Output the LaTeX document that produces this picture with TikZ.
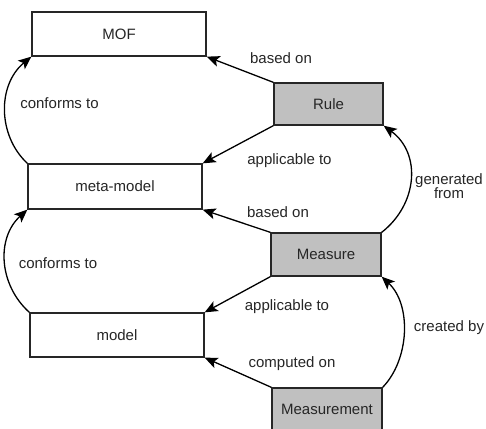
\documentclass[tikz,border=0pt]{standalone}
\usepackage{fontspec}
\setmainfont{Liberation Sans}
\usetikzlibrary{arrows.meta}
\definecolor{boxgray}{RGB}{192,192,192}
\begin{document}
\begin{tikzpicture}[x=1pt,y=-1pt,
  box/.style={draw=black!85,line width=1.3pt,rectangle,inner sep=0pt,text=black!85,font=\fontsize{15}{17}\selectfont},
  wbox/.style={box,fill=white},
  gbox/.style={box,fill=boxgray},
  conn/.style={line width=1.3pt,-{Stealth[length=13pt,width=11pt,inset=3pt]}},
  lbl/.style={inner sep=0pt,text=black!85,font=\fontsize{15}{17}\selectfont,align=center}]
\useasboundingbox (0,0) rectangle (486,428);
\clip (0,0) rectangle (486,428);
\fill[white] (0,0) rectangle (486,428);
% boxes
\node[wbox,minimum width=174pt,minimum height=44pt] (mof) at (119,34) {MOF};
\node[gbox,minimum width=109pt,minimum height=42pt] (rule) at (328.5,104) {Rule};
\node[wbox,minimum width=174pt,minimum height=45pt] (meta) at (115,186.5) {meta-model};
\node[gbox,minimum width=110pt,minimum height=43pt] (measure) at (326,254.5) {Measure};
\node[wbox,minimum width=174pt,minimum height=44pt] (model) at (117,335) {model};
\node[gbox,minimum width=110pt,minimum height=43pt] (measurement) at (327,409.5) {Measurement};
% straight connectors
\draw[conn] (rule.north west) -- (mof.south east);
\draw[conn] (rule.south west) -- (meta.north east);
\draw[conn] (measure.north west) -- (meta.south east);
\draw[conn] (measure.south west) -- (model.north east);
\draw[conn] (measurement.north west) -- (model.south east);
% curved connectors
\draw[conn] (meta.north west) .. controls +(-30,-28) and +(-34,28) .. (mof.south west);
\draw[conn] (model.north west) .. controls +(-31,-28) and +(-31,28) .. (meta.south west);
\draw[conn] (measure.north east) .. controls +(36,-28) and +(38,28) .. (rule.south east);
\draw[conn] (measurement.north east) .. controls +(27,-28) and +(30,28) .. (measure.south east);
% labels
\node[lbl] (l1) at (281,58) {based on};
\node[lbl] (l2) at (289.5,161) {applicable to};
\node[lbl] (l3) at (278,212) {based on};
\node[lbl] (l4) at (287,307) {applicable to};
\node[lbl] (l5) at (292,364) {computed on};
\node[lbl] (l6) at (59.5,103) {conforms to};
\node[lbl] (l7) at (58,263) {conforms to};
\node[lbl] (l8) at (449,186) {generated\\[-3pt]from};
\node[lbl] (l9) at (449,328) {created by};
\end{tikzpicture}
\end{document}
